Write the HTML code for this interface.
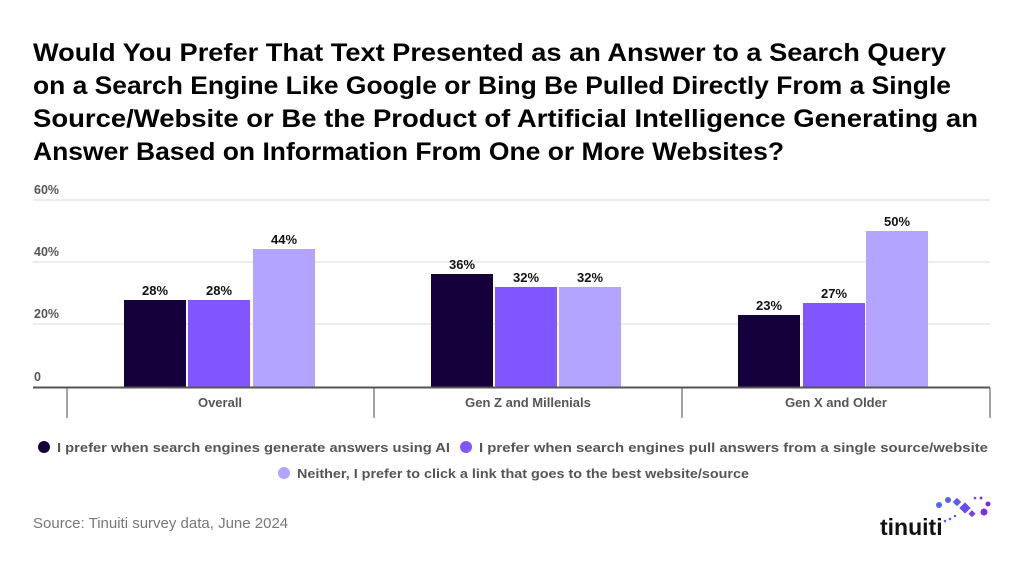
<!DOCTYPE html>
<html><head><meta charset="utf-8"><style>
html,body{margin:0;padding:0;background:#fff;}
svg{display:block;}
text{font-family:"Liberation Sans",Arial,sans-serif;}
</style></head><body>
<svg width="1024" height="561" viewBox="0 0 1024 561">
<g font-weight="bold" font-size="25" fill="#000">
<text x="33" y="61" textLength="913" lengthAdjust="spacingAndGlyphs">Would You Prefer That Text Presented as an Answer to a Search Query</text>
<text x="33" y="94" textLength="918" lengthAdjust="spacingAndGlyphs">on a Search Engine Like Google or Bing Be Pulled Directly From a Single</text>
<text x="33" y="127" textLength="945" lengthAdjust="spacingAndGlyphs">Source/Website or Be the Product of Artificial Intelligence Generating an</text>
<text x="33" y="160" textLength="751" lengthAdjust="spacingAndGlyphs">Answer Based on Information From One or More Websites?</text>
</g>
<g stroke="#e6e6e6" stroke-width="1.5">
<line x1="33" y1="200" x2="990" y2="200"/>
<line x1="33" y1="262" x2="990" y2="262"/>
<line x1="33" y1="324" x2="990" y2="324"/>
</g>
<g font-size="12.5" font-weight="bold" fill="#555">
<text x="34" y="194">60%</text>
<text x="34" y="256">40%</text>
<text x="34" y="318">20%</text>
<text x="34" y="381">0</text>
</g>
<g>
<rect x="124" y="300" width="62" height="87" fill="#14003a"/>
<rect x="188" y="300" width="62" height="87" fill="#8155ff"/>
<rect x="253" y="249" width="62" height="138" fill="#b3a4ff"/>
<rect x="431" y="274" width="62" height="113" fill="#14003a"/>
<rect x="495" y="287" width="62" height="100" fill="#8155ff"/>
<rect x="559" y="287" width="62" height="100" fill="#b3a4ff"/>
<rect x="738" y="315" width="62" height="72" fill="#14003a"/>
<rect x="803" y="303" width="62" height="84" fill="#8155ff"/>
<rect x="866" y="231" width="62" height="156" fill="#b3a4ff"/>
</g>
<g font-size="13" font-weight="bold" fill="#111" text-anchor="middle">
<text x="155" y="295">28%</text><text x="219" y="295">28%</text><text x="284" y="244">44%</text>
<text x="462" y="269">36%</text><text x="526" y="282">32%</text><text x="590" y="282">32%</text>
<text x="769" y="310">23%</text><text x="834" y="298">27%</text><text x="897" y="226">50%</text>
</g>
<line x1="33" y1="387.5" x2="990" y2="387.5" stroke="#555" stroke-width="2"/>
<g stroke="#666" stroke-width="1.2">
<line x1="67" y1="388" x2="67" y2="418"/>
<line x1="374" y1="388" x2="374" y2="418"/>
<line x1="682" y1="388" x2="682" y2="418"/>
<line x1="990" y1="388" x2="990" y2="418"/>
</g>
<g font-size="13" font-weight="bold" fill="#555" text-anchor="middle">
<text x="220" y="407">Overall</text>
<text x="528" y="407">Gen Z and Millenials</text>
<text x="836" y="407">Gen X and Older</text>
</g>
<g font-size="12.5" font-weight="bold" fill="#555">
<circle cx="44" cy="447" r="6" fill="#14003a"/>
<text x="57" y="452" textLength="393" lengthAdjust="spacingAndGlyphs">I prefer when search engines generate answers using AI</text>
<circle cx="466" cy="447" r="6" fill="#8155ff"/>
<text x="479" y="452" textLength="509" lengthAdjust="spacingAndGlyphs">I prefer when search engines pull answers from a single source/website</text>
<circle cx="284" cy="473" r="6" fill="#b3a4ff"/>
<text x="297" y="478" textLength="452" lengthAdjust="spacingAndGlyphs">Neither, I prefer to click a link that goes to the best website/source</text>
</g>
<text x="33" y="528" font-size="15" fill="#777">Source: Tinuiti survey data, June 2024</text>
<text x="880" y="535" font-size="23" font-weight="bold" fill="#111">tinuiti</text>
<g>
<circle cx="939" cy="505" r="3" fill="#4a6cf0"/>
<circle cx="948" cy="500" r="3" fill="#5563ee"/>
<rect x="954" y="499" width="6" height="6" fill="#5a5bee" transform="rotate(45 957 502)"/>
<rect x="961" y="504" width="8" height="8" fill="#6a4df0" transform="rotate(45 965 508)"/>
<rect x="970" y="511" width="5" height="5" fill="#7a40e8" transform="rotate(45 972 513)"/>
<circle cx="984" cy="512" r="3.5" fill="#7a2ee0"/>
<circle cx="988" cy="504" r="2.5" fill="#7a2ee0"/>
<circle cx="981" cy="498" r="1.5" fill="#7a40e8"/>
<circle cx="975" cy="498" r="1.3" fill="#7a40e8"/>
<circle cx="955" cy="516" r="1.3" fill="#5563ee"/>
<circle cx="950" cy="519" r="1.3" fill="#5563ee"/>
<circle cx="945" cy="521" r="1.3" fill="#5563ee"/>
</g>
</svg>
</body></html>
